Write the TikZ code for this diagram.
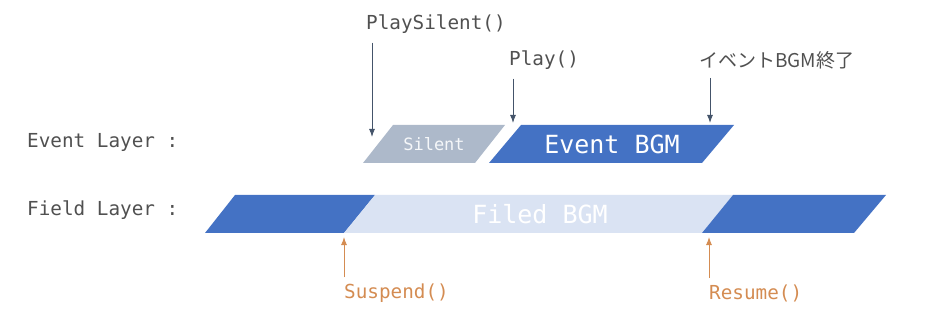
\documentclass[tikz,border=0pt]{standalone}
\usepackage{fontspec}
\setmonofont{DejaVu Sans Mono}
\newfontfamily\jpfont{Noto Sans CJK JP}
\usepackage{xcolor}
\usepackage{tikz}
\usetikzlibrary{arrows.meta}

\definecolor{bandblue}{HTML}{4472C4}
\definecolor{bandlight}{HTML}{DAE3F3}
\definecolor{bandgray}{HTML}{ADB9CA}
\definecolor{labelgray}{HTML}{505050}
\definecolor{arrowgray}{HTML}{44546A}
\definecolor{callorange}{RGB}{212,140,82}

\begin{document}
\begin{tikzpicture}[x=1pt,y=-1pt,>={Latex[length=8pt,width=6pt]}]
  \tikzstyle{lbl}=[font=\ttfamily\fontsize{19.3}{19.3}\selectfont,text=labelgray,inner sep=0pt,anchor=west]
  \tikzstyle{bandtext}=[font=\ttfamily\fontsize{25}{25}\selectfont,text=white,inner sep=0pt]
  \tikzstyle{call}=[->,line width=1pt,draw=arrowgray]
  \useasboundingbox (0,0) rectangle (946,326);
  % layer names
  \node[lbl] (eventlayer) at (27,142) {Event Layer :};
  \node[lbl] (fieldlayer) at (27,210) {Field Layer :};
  % event layer
  \fill[bandgray] (363,163) -- (393,125) -- (505,125) -- (475,163) -- cycle;
  \fill[bandblue] (489,163) -- (521,125) -- (734,125) -- (702,163) -- cycle;
  \node[bandtext,font=\ttfamily\fontsize{17}{17}\selectfont,text=white!88!bandgray] (silent) at (434,144) {Silent};
  \node[bandtext] (eventbgm) at (612,144) {Event BGM};
  % field layer
  \fill[bandblue] (205,233) -- (235,195) -- (375,195) -- (344,233) -- cycle;
  \fill[bandlight] (344,233) -- (375,195) -- (733,195) -- (702,233) -- cycle;
  \fill[bandblue] (702,233) -- (733,195) -- (886,195) -- (854,233) -- cycle;
  \node[bandtext] (filedbgm) at (540,214) {Filed BGM};
  % calls on the event layer
  \node[lbl] (playsilent) at (366,24) {PlaySilent()};
  \node[lbl] (play) at (509,60) {Play()};
  \node[lbl,font=\jpfont\fontsize{19}{19}\selectfont] (eventend) at (699,60) {イベントBGM終了};
  \coordinate (silentin) at (372,137);
  \coordinate (playin) at (513,123);
  \coordinate (endin) at (710,123);
  \foreach \a/\b in {playsilent/silentin,play/playin,eventend/endin}
    \draw[call] (\a.south west -| \b) ++(0,9) -- (\b);
  % calls on the field layer
  \node[lbl,text=callorange] (suspend) at (344,293) {Suspend()};
  \node[lbl,text=callorange] (resume) at (709,293) {Resume()};
  \coordinate (suspendat) at (344,237);
  \coordinate (resumeat) at (709,237);
  \foreach \a/\b in {suspend/suspendat,resume/resumeat}
    \draw[call,draw=callorange] (\a.north west -| \b) ++(0,-6) -- (\b);
\end{tikzpicture}
\end{document}
